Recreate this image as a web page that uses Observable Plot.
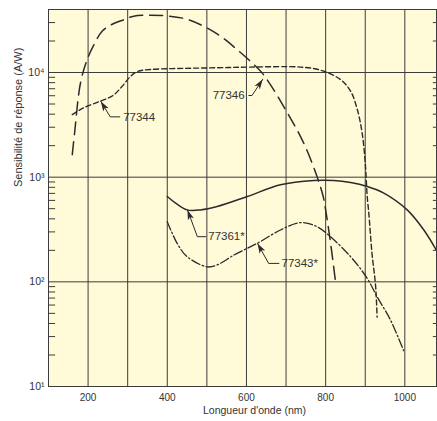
<!DOCTYPE html>
<html>
<head>
<meta charset="utf-8">
<script src="https://cdn.jsdelivr.net/npm/d3@7"></script>
<script src="https://cdn.jsdelivr.net/npm/@observablehq/plot@0.6"></script>
<style>
  html, body { margin: 0; padding: 0; background: #ffffff; }
  #chart svg { display: block; }
</style>
</head>
<body>
<div id="chart"></div>
<script>
// ---------- data ----------
const xTicks = [200, 400, 600, 800, 1000];
const xGridLines = [200, 300, 400, 500, 600, 700, 800, 900, 1000];
const yTicks = [10, 100, 1000, 10000];
const yGridLines = [100, 1000, 10000];
const minorTicks = [20, 30, 40, 50, 60, 70, 80, 90, 200, 300, 400, 500, 600, 700, 800, 900,
                    2000, 3000, 4000, 5000, 6000, 7000, 8000, 9000, 20000, 30000];
const xLabel = "Longueur d'onde (nm)";
const yLabel = "Sensibilité de réponse (A/W)";

// 77346 — long dashes
const wl77346 = [160, 166, 181, 198, 213, 236, 261, 289, 315, 352, 400, 450, 491, 534, 576, 618, 643, 703, 744, 778, 794, 800, 812, 826];
const r77346  = [1640, 2670, 8030, 13400, 17900, 24900, 28900, 31800, 34500, 35300, 34700, 32300, 27800, 22300, 16600, 12000, 9550, 4140, 2140, 1020, 650, 486, 242, 93];

// 77344 — short dashes
const wl77344 = [160, 189, 231, 262, 285, 305, 324, 358, 441, 526, 610, 736, 787, 837, 863, 880, 892, 900, 905, 909, 917, 926, 930];
const r77344  = [3960, 4600, 5330, 6000, 7300, 9000, 10200, 10700, 10950, 11100, 11270, 11270, 10540, 8590, 6640, 4430, 2670, 1375, 653, 456, 188, 93, 46];

// 77361* — solid
const wl77361 = [400, 421, 450, 484, 526, 602, 686, 770, 820, 863, 905, 947, 1006, 1048, 1080];
const r77361  = [653, 565, 487, 487, 524, 653, 846, 930, 930, 889, 815, 705, 487, 313, 200];

// 77343* — dash-dot
const wl77343 = [400, 425, 450, 501, 526, 568, 602, 627, 686, 736, 778, 812, 863, 905, 930, 964, 997];
const r77343  = [376, 233, 174, 139, 145, 180, 209, 233, 313, 368, 337, 270, 174, 108, 72, 43, 22];

// annotation labels
const annNames  = ["77344", "77346", "77361*", "77343*"];
const annTextX  = [286, 598, 501, 686];
const annTextY  = [3770, 6030, 270, 150];
const annAnchor = ["start", "end", "start", "start"];
const annStartX = [280, 606, 497, 682];
const annElbowX = [256, 614, 476, 656];
const annElbowY = [3770, 6030, 270, 150];
const annTipX   = [232, 641, 451, 628];
const annTipY   = [5300, 8600, 487, 233];

// ---------- build ----------
const W = 437, H = 421;
const mTop = 9, mRight = 1, mBottom = 35, mLeft = 48;
const xDomain = [100, 1080], yDomain = [10, 40000];
const ink = "#2b2b2b", grid = "#3c3c3c", bg = "#fffad8";
const font = '"Liberation Sans", Arial, Helvetica, sans-serif';

const rows = (wl, r) => wl.map((x, i) => ({x, y: r[i]}));
const s46 = rows(wl77346, r77346), s44 = rows(wl77344, r77344),
      s61 = rows(wl77361, r77361), s43 = rows(wl77343, r77343);

// same scales as the plot (used only to aim the arrowheads)
const sx = d3.scaleLinear(xDomain, [mLeft, W - mRight]);
const sy = d3.scaleLog(yDomain, [H - mBottom, mTop]);

const ann = annNames.map((name, i) => ({
  name, tx: annTextX[i], ty: annTextY[i], anchor: annAnchor[i],
  sx: annStartX[i], ex: annElbowX[i], ey: annElbowY[i], px: annTipX[i], py: annTipY[i],
  rot: Math.atan2(sx(annTipX[i]) - sx(annElbowX[i]), -(sy(annTipY[i]) - sy(annElbowY[i]))) * 180 / Math.PI
}));
const leaders = ann.flatMap(a => [
  {name: a.name, x: a.sx, y: a.ty},
  {name: a.name, x: a.ex, y: a.ey},
  {name: a.name, x: a.px, y: a.py}
]);

const headShape = {
  draw(ctx, l, r) {
    ctx.moveTo(0, -l);
    ctx.lineTo(r, 0);
    ctx.lineTo(0, -l * 0.25);
    ctx.lineTo(-r, 0);
    ctx.closePath();
  }
};

const sup = {"0":"⁰","1":"¹","2":"²","3":"³","4":"⁴","5":"⁵","6":"⁶","7":"⁷","8":"⁸","9":"⁹"};
const fmtPow = d => "10" + String(Math.round(Math.log10(d))).split("").map(c => sup[c]).join("");

const chart = Plot.plot({
  width: W, height: H,
  marginTop: mTop, marginRight: mRight, marginBottom: mBottom, marginLeft: mLeft,
  style: {fontFamily: font, background: "#ffffff", color: ink},
  x: {domain: xDomain},
  y: {type: "log", domain: yDomain},
  marks: [
    Plot.frame({fill: bg, stroke: null}),
    Plot.ruleX(xGridLines, {stroke: grid, strokeWidth: 1}),
    Plot.ruleY(yGridLines, {stroke: grid, strokeWidth: 1}),
    Plot.ruleY(minorTicks, {x1: 100, x2: 118, stroke: grid, strokeWidth: 1}),
    Plot.ruleY(minorTicks, {x1: 1072, x2: 1080, stroke: grid, strokeWidth: 1}),
    Plot.line(s46, {x: "x", y: "y", curve: "catmull-rom", stroke: ink, strokeWidth: 1.5, strokeDasharray: "13,7"}),
    Plot.line(s44, {x: "x", y: "y", curve: "catmull-rom", stroke: ink, strokeWidth: 1.4, strokeDasharray: "5,3"}),
    Plot.line(s61, {x: "x", y: "y", curve: "catmull-rom", stroke: ink, strokeWidth: 1.5}),
    Plot.line(s43, {x: "x", y: "y", curve: "catmull-rom", stroke: ink, strokeWidth: 1.3, strokeDasharray: "9,2.5,1.5,2.5"}),
    Plot.line(leaders, {x: "x", y: "y", z: "name", stroke: ink, strokeWidth: 1}),
    Plot.vector(ann, {x: "px", y: "py", rotate: "rot", length: 10, r: 3.2, anchor: "end",
                      shape: headShape, fill: ink, stroke: "none"}),
    Plot.text(ann.filter(a => a.anchor === "start"), {x: "tx", y: "ty", text: "name", textAnchor: "start",
                      dx: 1, fontSize: 11.5, fill: "#333"}),
    Plot.text(ann.filter(a => a.anchor === "end"), {x: "tx", y: "ty", text: "name", textAnchor: "end",
                      dx: -1, fontSize: 11.5, fill: "#333"}),
    Plot.frame({stroke: grid, strokeWidth: 1}),
    Plot.axisX({ticks: xTicks, tickSize: 0, tickPadding: 7, tickFormat: d => String(d), label: null, fontSize: 10, fill: "#333"}),
    Plot.axisY({ticks: yTicks, tickSize: 0, tickPadding: 4, tickFormat: fmtPow, label: null, fontSize: 10.5, fill: "#333"}),
    Plot.text([xLabel], {frameAnchor: "bottom", dy: 27, dx: 12, fontSize: 10.5, fill: "#333"}),
    Plot.text([yLabel], {frameAnchor: "left", dx: -30, dy: -11, rotate: -90, fontSize: 11, fill: "#333"})
  ]
});
document.getElementById("chart").appendChild(chart);
</script>
</body>
</html>
